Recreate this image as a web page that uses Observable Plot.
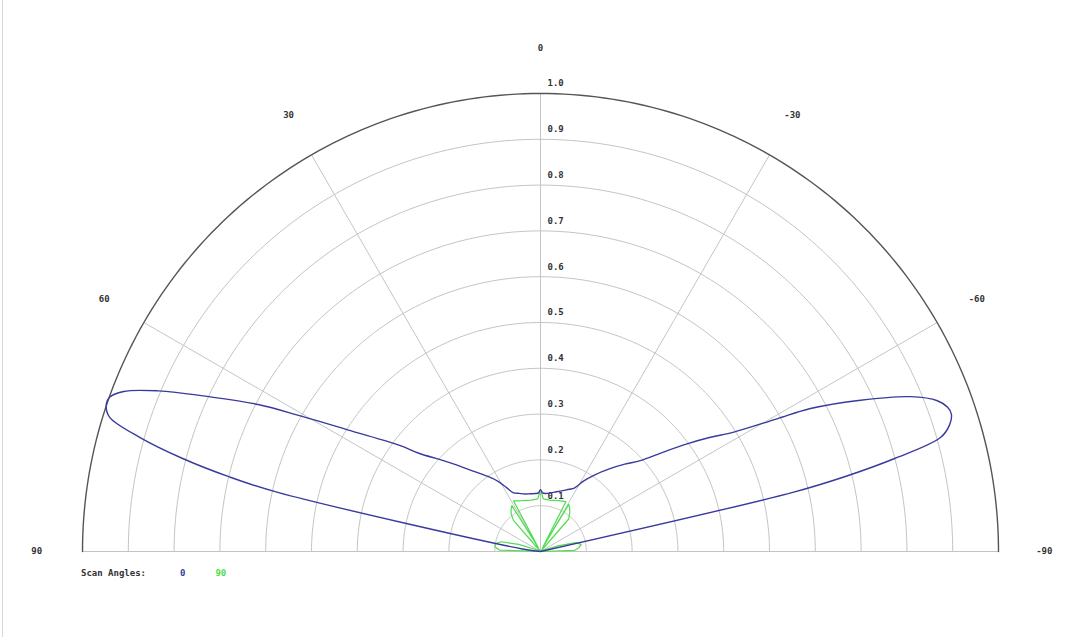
<!DOCTYPE html>
<html>
<head>
<meta charset="utf-8">
<script src="https://cdn.jsdelivr.net/npm/d3@7"></script>
<script src="https://cdn.jsdelivr.net/npm/@observablehq/plot@0.6"></script>
<style>
  body { margin: 0; background: #fff; font-family: "DejaVu Sans Mono", monospace; }
  #wrap { position: relative; width: 1080px; height: 637px; overflow: hidden; }
  #edge { position: absolute; left: 2px; top: 0; width: 1px; height: 637px; background: #d8d8d8; }
  #legend { position: absolute; left: 81px; top: 562px; height: 22px; line-height: 22px;
            font-size: 9px; font-weight: bold; color: #333; white-space: pre; }
  #legend .s0 { color: #3a3a9e; margin-left: 34px; }
  #legend .s90 { color: #4ddd4d; margin-left: 30px; }
</style>
</head>
<body>
<div id="wrap">
  <div id="chart"></div>
  <div id="edge"></div>
  <div id="legend">Scan Angles:<span class="s0">0</span><span class="s90">90</span></div>
</div>
<script>
// ---- data (angle in degrees, positive = left side; normalized radius) ----
const ringValues = [0.1, 0.2, 0.3, 0.4, 0.5, 0.6, 0.7, 0.8, 0.9, 1.0];
const spokeAngles = [90, 60, 30, 0, -30, -60, -90];
const angleLabels = ["90", "60", "30", "0", "-30", "-60", "-90"];

const scan0Angles = [90, 82, 77.3, 76.5, 75.4, 74.1, 72.7, 71.5, 70.4, 69, 67.2, 65, 62.5, 60.5, 57.5, 53, 51, 47.5, 44, 40, 35, 31, 28, 25, 20, 15, 10, 5, 2, 0, -2, -5, -10, -15, -21, -25, -28, -31.4, -35, -40, -44, -47.7, -51, -53.7, -56, -58.3, -60.7, -62.1, -64.7, -67.3, -69.2, -70.5, -71.5, -72.8, -74.1, -75.3, -76.2, -76.8, -77.5, -90];
const scan0Radii  = [0, 0.04, 0.59, 0.70, 0.81, 0.91, 0.985, 1.0, 1.0, 0.975, 0.905, 0.80, 0.695, 0.60, 0.49, 0.385, 0.34, 0.297, 0.262, 0.229, 0.20, 0.178, 0.158, 0.142, 0.135, 0.13, 0.128, 0.127, 0.128, 0.135, 0.128, 0.127, 0.13, 0.135, 0.143, 0.15, 0.157, 0.18, 0.203, 0.236, 0.265, 0.295, 0.345, 0.397, 0.445, 0.496, 0.592, 0.667, 0.773, 0.876, 0.927, 0.943, 0.946, 0.935, 0.908, 0.798, 0.682, 0.568, 0, 0];

const scan90Angles = [90, 88, 84, 80, 76, 72, 68, 55, 45, 44, 41, 38, 35, 32, 30, 28, 26, 20, 10, 3, 1, 0, -1, -3, -10, -20, -27, -29, -31, -34, -37, -41, -44, -55, -68, -72, -76, -80, -84, -88, -90];
const scan90Radii  = [0, 0.09, 0.10, 0.10, 0.088, 0.05, 0.01, 0.0, 0.0, 0.0, 0.09, 0.104, 0.112, 0.118, 0.01, 0.125, 0.123, 0.118, 0.114, 0.115, 0.128, 0.125, 0.128, 0.115, 0.114, 0.118, 0.122, 0.01, 0.12, 0.114, 0.106, 0.094, 0.0, 0.0, 0.01, 0.04, 0.08, 0.09, 0.085, 0.075, 0];

// ---- helpers ----
const rad = a => a * Math.PI / 180;
const px = (a, r) => -r * Math.sin(rad(a));
const py = (a, r) => r * Math.cos(rad(a));

const ringPts = [];
for (const r of ringValues) {
  for (let a = 90; a >= -90; a -= 1) ringPts.push({ring: r, x: px(a, r), y: py(a, r)});
}
const innerRings = ringPts.filter(d => d.ring < 1);
const outerRing = ringPts.filter(d => d.ring === 1);

const spokes = spokeAngles.map(a => ({x2: px(a, 1), y2: py(a, 1)}));
const angleText = spokeAngles.map((a, i) => ({x: px(a, 1.1), y: py(a, 1.1), label: angleLabels[i]}));
const ringText = ringValues.map(r => ({y: r, label: d3.format(".1f")(r)}));

const scan0 = scan0Angles.map((a, i) => ({x: px(a, scan0Radii[i]), y: py(a, scan0Radii[i])}));
const scan90 = scan90Angles.map((a, i) => ({x: px(a, scan90Radii[i]), y: py(a, scan90Radii[i])}));

const chart = Plot.plot({
  width: 1080,
  height: 562,
  marginLeft: 82,
  marginRight: 82,
  marginTop: 93,
  marginBottom: 11,
  x: {domain: [-1, 1], axis: null},
  y: {domain: [0, 1], axis: null},
  style: {fontFamily: "'DejaVu Sans Mono', monospace", fontSize: "9px", background: "#fff"},
  marks: [
    Plot.line(innerRings, {x: "x", y: "y", z: "ring", stroke: "#c4c4c4", strokeWidth: 1}),
    Plot.link(spokes, {x1: d => 0, y1: d => 0, x2: "x2", y2: "y2", stroke: "#c4c4c4", strokeWidth: 1}),
    Plot.line(outerRing, {x: "x", y: "y", stroke: "#555", strokeWidth: 1.4}),
    Plot.text(ringText, {x: d => 0, y: "y", text: "label", dx: 7, dy: -10, textAnchor: "start", fill: "#333", fontWeight: "bold"}),
    Plot.text(angleText, {x: "x", y: "y", text: "label", fill: "#333", fontWeight: "bold"}),
    Plot.line(scan90, {x: "x", y: "y", stroke: "#4ddd4d", strokeWidth: 1.2}),
    Plot.line(scan0, {x: "x", y: "y", stroke: "#3a3a9e", strokeWidth: 1.4, curve: "catmull-rom"})
  ]
});
document.getElementById("chart").appendChild(chart);
</script>
</body>
</html>
